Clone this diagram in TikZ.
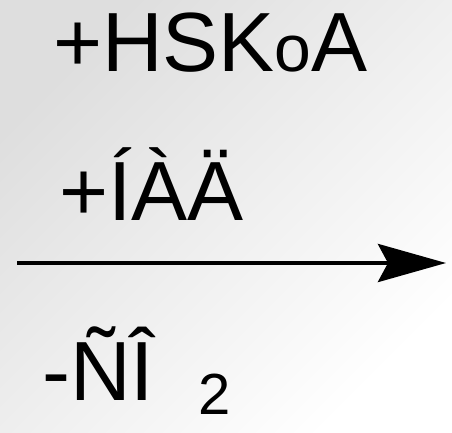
\documentclass[tikz,border=0pt]{standalone}
\usepackage{fontspec}
\setmainfont{Liberation Sans}
\usetikzlibrary{arrows.meta}
\tikzset{
  big/.style={anchor=base west, inner sep=0pt, font=\fontsize{84}{84}\selectfont, text=black},
  small/.style={anchor=base west, inner sep=0pt, font=\fontsize{58}{58}\selectfont, text=black},
  rxn/.style={line width=4.5pt, -{Stealth[length=68pt, width=38pt, inset=10pt]}}
}
\begin{document}
\begin{tikzpicture}[x=1pt, y=-1pt]
  \shade[top color=black!13, bottom color=white, shading angle=45] (0,0) rectangle (452,433);
  \useasboundingbox (0,0) rectangle (452,433);
  \node[big] (l1) at (53,72) {+HSK{\fontsize{66}{66}\selectfont o}A};
  \node[big] (l2) at (59,220) {+ÍÀÄ};
  \node[big] (l3) at (42,400) {-ÑÎ};
  \node[small] (l3s) at (198,414) {2};
  \coordinate (a) at (17,263);
  \coordinate (b) at (446,263);
  \draw[rxn] (a) -- (b);
\end{tikzpicture}
\end{document}
